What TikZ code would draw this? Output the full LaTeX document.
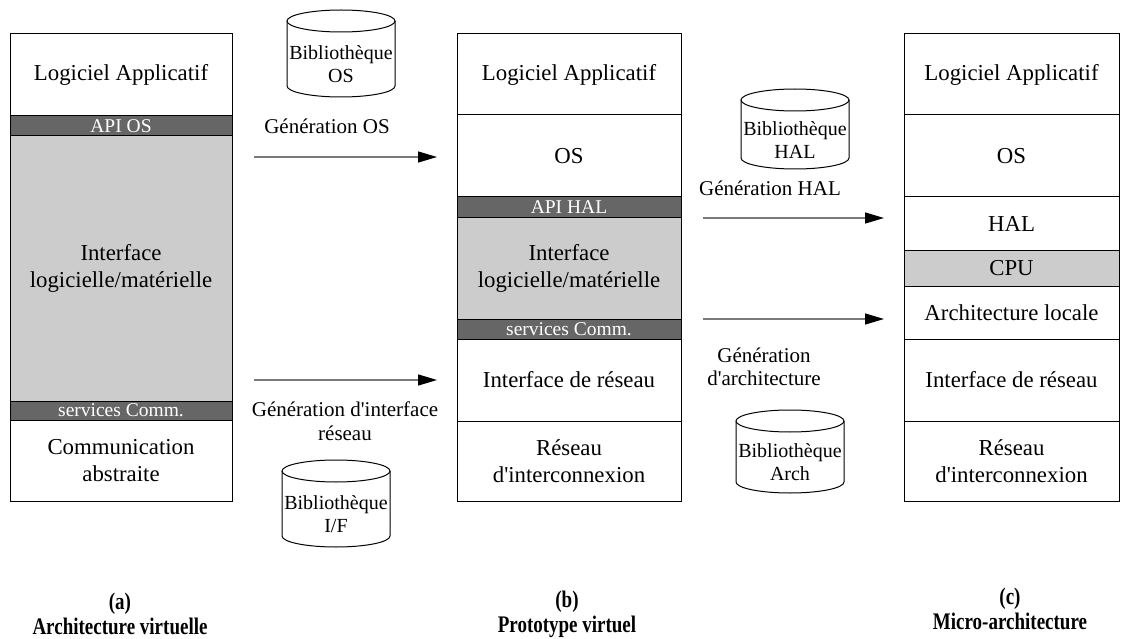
\documentclass[tikz,border=0pt]{standalone}
\usepackage{fontspec}
\setmainfont{Liberation Serif}
\usetikzlibrary{arrows.meta}
\definecolor{darkbar}{HTML}{666666}
\definecolor{lightbar}{HTML}{CCCCCC}
\definecolor{arrgray}{HTML}{7A7A7A}
\newcommand{\apos}{\textquotesingle}
\newcommand{\tall}[1]{\scalebox{1}[1.25]{#1}}
\tikzset{
  layer/.style={draw=black, line width=1pt, fill=white, inner sep=0pt, align=center,
    font=\fontsize{22.8}{26.5}\selectfont},
  darklayer/.style={layer, fill=darkbar, text=white, font=\fontsize{19.5}{22}\selectfont},
  lightlayer/.style={layer, fill=lightbar},
  cyltext/.style={inner sep=0pt, align=center, font=\fontsize{20}{23}\selectfont},
  cylline/.style={draw=black, line width=1pt, fill=white},
  genlabel/.style={inner sep=0pt, align=center, font=\fontsize{21}{23.5}\selectfont},
  caption/.style={inner sep=0pt, align=center, font=\bfseries\fontsize{19}{25}\selectfont},
  genarrow/.style={draw=arrgray, line width=1.4pt, -{Triangle[length=19pt,width=11pt,color=black]}}
}
\newcommand{\mycyl}[6]{%
  \draw[cylline] ({#2-54},{#3+11}) -- ({#2-54},{#4-11})
     arc[start angle=180, end angle=0, x radius=54, y radius=11] -- ({#2+54},{#3+11});
  \draw[cylline] ({#2},{#3+11}) ellipse[x radius=54, y radius=11];
  \node[cyltext] (#1) at ({#2},{(#3+22+#4)/2}) {#5\\#6};
}
\begin{document}
\begin{tikzpicture}[x=1pt,y=-1pt]
\useasboundingbox (0,0) rectangle (1127,639);

% ---- column (a)
\node[layer, minimum width=222pt, minimum height=82pt] (a1) at (121,75) {Logiciel Applicatif};
\node[darklayer, minimum width=222pt, minimum height=20pt] (a2) at (121,126) {API OS};
\node[lightlayer, minimum width=222pt, minimum height=265pt] (a3) at (121,268.5) {Interface\\logicielle/matérielle};
\node[darklayer, minimum width=222pt, minimum height=19pt] (a4) at (121,410.5) {services Comm.};
\node[layer, minimum width=222pt, minimum height=81pt] (a5) at (121,460.5) {Communication\\abstraite};

% ---- column (b)
\node[layer, minimum width=224pt, minimum height=81pt] (b1) at (569,74.5) {Logiciel Applicatif};
\node[layer, minimum width=224pt, minimum height=82pt] (b2) at (569,156) {OS};
\node[darklayer, minimum width=224pt, minimum height=21pt] (b3) at (569,207.5) {API HAL};
\node[lightlayer, minimum width=224pt, minimum height=101pt] (b4) at (569,268.5) {Interface\\logicielle/matérielle};
\node[darklayer, minimum width=224pt, minimum height=20pt] (b5) at (569,329) {services Comm.};
\node[layer, minimum width=224pt, minimum height=82pt] (b6) at (569,380) {Interface de réseau};
\node[layer, minimum width=224pt, minimum height=80pt] (b7) at (569,461) {Réseau\\d\apos interconnexion};

% ---- column (c)
\node[layer, minimum width=215pt, minimum height=81pt] (c1) at (1011.5,74.5) {Logiciel Applicatif};
\node[layer, minimum width=215pt, minimum height=82pt] (c2) at (1011.5,156) {OS};
\node[layer, minimum width=215pt, minimum height=53pt] (c3) at (1011.5,223.5) {HAL};
\node[lightlayer, minimum width=215pt, minimum height=36pt] (c4) at (1011.5,268) {CPU};
\node[layer, minimum width=215pt, minimum height=53pt] (c5) at (1011.5,312.5) {Architecture locale};
\node[layer, minimum width=215pt, minimum height=82pt] (c6) at (1011.5,380) {Interface de réseau};
\node[layer, minimum width=215pt, minimum height=80pt] (c7) at (1011.5,461) {Réseau\\d\apos interconnexion};

% ---- libraries
\mycyl{libos}{341}{10}{97}{Bibliothèque}{OS}
\mycyl{libhal}{795}{89}{169}{Bibliothèque}{HAL}
\mycyl{libif}{336}{460}{547}{Bibliothèque}{I/F}
\mycyl{libarch}{790}{410}{493}{Bibliothèque}{Arch}

% ---- generation arrows
\coordinate (g1s) at (254,157);  \coordinate (g1e) at (437,157);
\coordinate (g2s) at (254,380);  \coordinate (g2e) at (437,380);
\coordinate (g3s) at (703,218);  \coordinate (g3e) at (884,218);
\coordinate (g4s) at (703,319);  \coordinate (g4e) at (884,319);
\draw[genarrow] (g1s) -- (g1e);
\draw[genarrow] (g2s) -- (g2e);
\draw[genarrow] (g3s) -- (g3e);
\draw[genarrow] (g4s) -- (g4e);

\node[genlabel] (lg1) at (327,126) {Génération OS};
\node[genlabel] (lg2) at (345,421) {Génération d\apos interface\\réseau};
\node[genlabel] (lg3) at (770,188) {Génération HAL};
\node[genlabel] (lg4) at (764,367) {Génération\\d\apos architecture};

% ---- captions
\node[caption] (capa) at (120,614) {\tall{(a)}\\\tall{Architecture virtuelle}};
\node[caption] (capb) at (567,614) {\tall{(b)}\\\tall{Prototype virtuel}};
\node[caption] (capc) at (1010,609) {\tall{(c)}\\\tall{Micro-architecture}};
\end{tikzpicture}
\end{document}
